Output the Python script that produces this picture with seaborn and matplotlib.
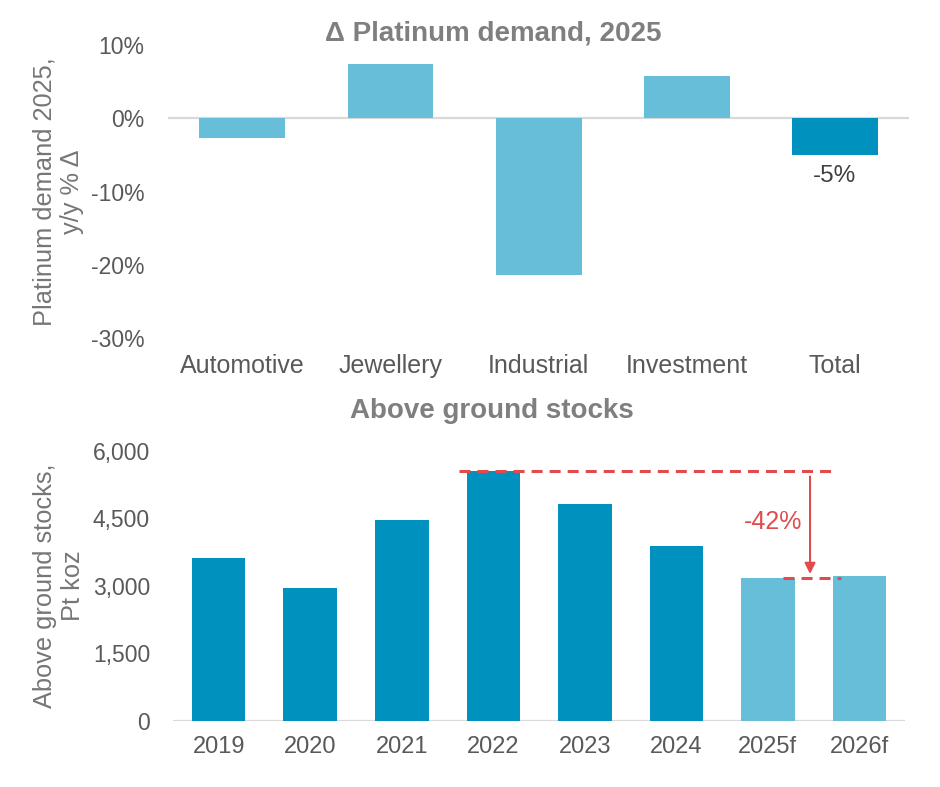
import matplotlib
matplotlib.use("Agg")
import matplotlib.pyplot as plt
from matplotlib.ticker import FuncFormatter
import seaborn as sns

# ---- data ----
categories = ["Automotive", "Jewellery", "Industrial", "Investment", "Total"]
demand_change = [-2.7, 7.4, -21.4, 5.7, -5.0]
demand_yticks = [-30, -20, -10, 0, 10]

years = ["2019", "2020", "2021", "2022", "2023", "2024", "2025f", "2026f"]
stocks = [3620, 2945, 4460, 5550, 4810, 3880, 3180, 3210]
stocks_yticks = [0, 1500, 3000, 4500, 6000]

DARK = "#0091BE"
LIGHT = "#67BED8"
RED = "#E04B4E"
GRID = "#D9D9D9"
TICK = "#595959"
LABEL = "#767676"
TITLE = "#7F7F7F"

sns.set_theme(style="white")
plt.rcParams["font.family"] = ["Liberation Sans", "DejaVu Sans"]
plt.rcParams["axes.unicode_minus"] = False

fig = plt.figure(figsize=(9.4, 7.87), dpi=100)
ax1 = fig.add_axes([0.179, 0.570, 0.788, 0.373])
ax2 = fig.add_axes([0.184, 0.0842, 0.779, 0.343])

# ---- top chart ----
demand_colors = [DARK if c == "Total" else LIGHT for c in categories]
sns.barplot(x=categories, y=demand_change, hue=categories, palette=demand_colors,
            width=0.58, legend=False, ax=ax1, linewidth=0, saturation=1, zorder=2)
ax1.axhline(0, color=GRID, lw=1.6, zorder=1)
ax1.set_ylim(-30, 10)
ax1.set_xlim(-0.5, len(categories) - 0.5)
ax1.set_yticks(demand_yticks)
ax1.yaxis.set_major_formatter(FuncFormatter(lambda v, p: f"{v:.0f}%"))
ax1.tick_params(axis="x", length=0, pad=11, labelsize=18, labelcolor=TICK)
ax1.tick_params(axis="y", length=0, pad=17, labelsize=16.5, labelcolor=TICK)
ax1.set_xlabel("")
ax1.set_ylabel("")
for s in ax1.spines.values():
    s.set_visible(False)
total_idx = categories.index("Total")
ax1.annotate(f"{demand_change[total_idx]:.0f}%", xy=(total_idx, demand_change[total_idx]),
             xytext=(0, -7), textcoords="offset points", ha="center", va="top",
             fontsize=17.5, color="#404040")

fig.text(0.5245, 0.957, "\u0394 Platinum demand, 2025", ha="center", va="center",
         fontsize=20, fontweight="bold", color=TITLE)
fig.text(0.062, 0.756, "Platinum demand 2025,\ny/y % \u0394", rotation=90,
         ha="center", va="center", multialignment="center",
         fontsize=18.3, color=LABEL, linespacing=1.2)

# ---- bottom chart ----
stock_colors = [LIGHT if y.endswith("f") else DARK for y in years]
sns.barplot(x=years, y=stocks, hue=years, palette=stock_colors,
            width=0.585, legend=False, ax=ax2, linewidth=0, saturation=1, zorder=2)
ax2.axhline(0, color=GRID, lw=1.6, zorder=1)
ax2.set_ylim(0, 6000)
ax2.set_xlim(-0.5, len(years) - 0.5)
ax2.set_yticks(stocks_yticks)
ax2.yaxis.set_major_formatter(FuncFormatter(lambda v, p: f"{v:,.0f}"))
ax2.tick_params(axis="x", length=0, pad=11, labelsize=17, labelcolor=TICK)
ax2.tick_params(axis="y", length=0, pad=16.5, labelsize=16.5, labelcolor=TICK)
ax2.set_xlabel("")
ax2.set_ylabel("")
for s in ax2.spines.values():
    s.set_visible(False)

peak_i = stocks.index(max(stocks))
low_i = years.index("2025f")
peak = stocks[peak_i]
low = stocks[low_i]
dash = (0, (3.6, 2.3))
ax2.plot([peak_i - 0.37, 6.75], [peak, peak], ls=dash, color=RED, lw=2.2, zorder=3)
ax2.plot([low_i + 0.16, 6.80], [low, low], ls=dash, color=RED, lw=2.2, zorder=3)
arrow_x = 6.46
ax2.annotate("", xy=(arrow_x, low + 20), xytext=(arrow_x, peak - 60),
             arrowprops=dict(arrowstyle="-|>", color=RED, lw=1.5, mutation_scale=16),
             zorder=3)
ax2.text(arrow_x - 0.09, (peak + low) / 2 + 60, "-42%", ha="right", va="center",
         fontsize=18, color=RED)

fig.text(0.523, 0.478, "Above ground stocks", ha="center", va="center",
         fontsize=20, fontweight="bold", color=TITLE)
fig.text(0.063, 0.2554, "Above ground stocks,\nPt koz", rotation=90,
         ha="center", va="center", multialignment="center",
         fontsize=18.3, color=LABEL, linespacing=1.2)

fig.savefig("out.png", dpi=100, facecolor="white")
